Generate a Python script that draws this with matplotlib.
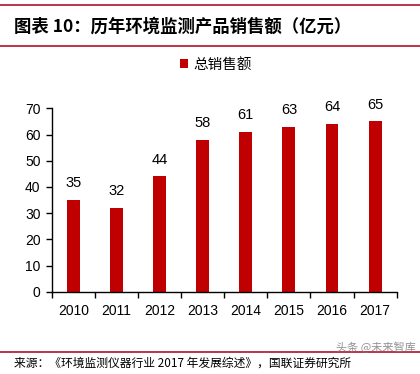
import matplotlib
matplotlib.use("Agg")
import matplotlib.pyplot as plt
from matplotlib.lines import Line2D
import numpy as np

years = ["2010", "2011", "2012", "2013", "2014", "2015", "2016", "2017"]
sales = [35, 32, 44, 58, 61, 63, 64, 65]
yticks = [0, 10, 20, 30, 40, 50, 60, 70]

title = "图表 10：历年环境监测产品销售额（亿元）"
legend_label = "总销售额"
source = "来源：《环境监测仪器行业 2017 年发展综述》，国联证券研究所"
watermark = "头条 @未来智库"

cjk = ["Noto Sans CJK SC", "DejaVu Sans"]
num = ["Liberation Sans", "DejaVu Sans"]
red = "#C00000"
rule = "#B0122A"

fig = plt.figure(figsize=(4.2, 3.74), dpi=100)
fig.patch.set_facecolor("white")

# rules
for y in [1 - 4.5 / 374, 1 - 45.5 / 374, 1 - 351.5 / 374]:
    fig.add_artist(Line2D([0.0, 1.0], [y, y], color=rule, lw=1.2, transform=fig.transFigure))

fig.text(14 / 420, 1 - 27 / 374, title, family=cjk, fontsize=12.5, fontweight="bold",
         ha="left", va="center", color="black")
fig.text(14 / 420, 1 - 363 / 374, source, family=cjk, fontsize=8.5,
         ha="left", va="center", color="black")
fig.text(336 / 420, 1 - 347 / 374, watermark, family=cjk, fontsize=8,
         ha="left", va="center", color="#777777", alpha=0.8)

ax = fig.add_axes([51.7 / 420, 1 - 291.7 / 374, 345 / 420, 183.4 / 374])
x = np.arange(len(years))
bars = ax.bar(x, sales, width=0.3, color=red, label=legend_label, zorder=2)
for xi, v in zip(x, sales):
    ax.annotate(str(v), (xi, v), xytext=(0, 7), textcoords="offset points",
                ha="center", va="bottom", fontsize=10.5, family=num, color="black")

ax.set_xlim(-0.5, len(years) - 0.5)
ax.set_ylim(0, 70)
ax.set_yticks(yticks)
ax.set_yticklabels([str(t) for t in yticks], family=num, fontsize=10)
ax.set_xticks(x)
ax.set_xticklabels(years, family=num, fontsize=10)
ax.set_xticks(np.arange(-0.5, len(years), 1.0), minor=True)
ax.tick_params(axis="x", which="major", length=0, pad=9)
ax.tick_params(axis="x", which="minor", length=4, direction="out", width=1)
ax.tick_params(axis="y", length=4, direction="out", width=1, pad=4)
for s in ["top", "right"]:
    ax.spines[s].set_visible(False)
for s in ["left", "bottom"]:
    ax.spines[s].set_linewidth(1)
    ax.spines[s].set_color("black")

leg = fig.legend(handles=[bars], labels=[legend_label], loc="center",
                 bbox_to_anchor=(216 / 420, 1 - 65 / 374), frameon=False,
                 prop={"family": cjk, "size": 10.5}, handlelength=0.55, handleheight=0.55,
                 handletextpad=0.4)

fig.savefig("out.png", dpi=100, facecolor="white")
